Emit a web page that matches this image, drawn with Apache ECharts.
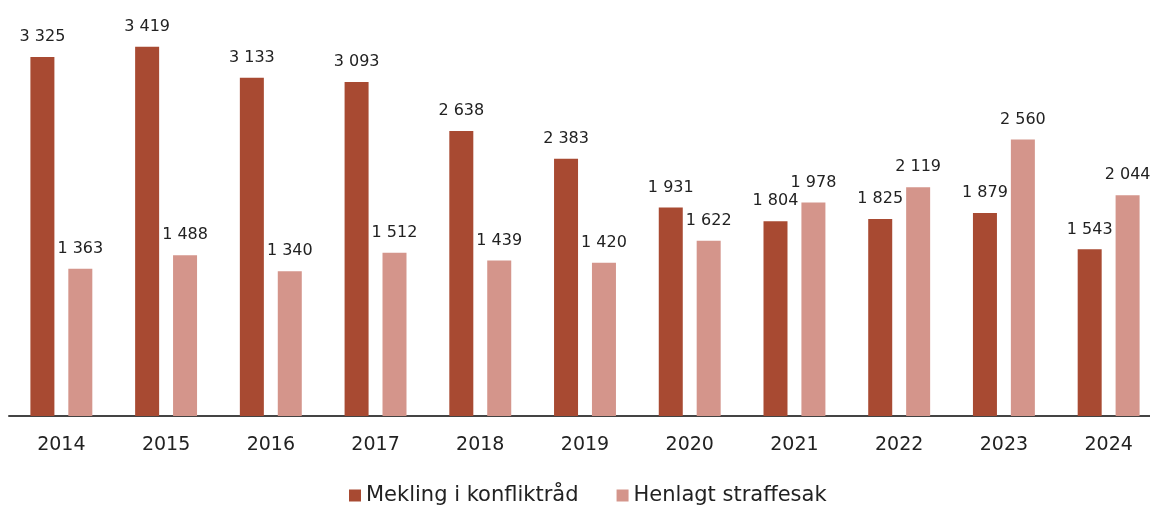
<!DOCTYPE html>
<html>
<head>
<meta charset="utf-8">
<script src="https://cdn.jsdelivr.net/npm/echarts@6/dist/echarts.min.js"></script>
<style>
  html, body { margin: 0; padding: 0; background: #fff; overflow: hidden; }
  #chart { width: 1165px; height: 505px; }
</style>
</head>
<body>
<div id="chart"></div>
<script>
var years = ['2014', '2015', '2016', '2017', '2018', '2019', '2020', '2021', '2022', '2023', '2024'];
var mekling = [3325, 3419, 3133, 3093, 2638, 2383, 1931, 1804, 1825, 1879, 1543];
var henlagt = [1363, 1488, 1340, 1512, 1439, 1420, 1622, 1978, 2119, 2560, 2044];

var fontName = '"DejaVu Sans", sans-serif';

// tusenskille med mellomrom, som i originalen
function fmt(p) {
    return String(p.value).replace(/\B(?=(\d{3})+(?!\d))/g, ' ');
}

var chart = echarts.init(document.getElementById('chart'));

var option = {
    animation: false,
    textStyle: { fontFamily: fontName },
    grid: {
        left: 9,
        right: 4,
        top: 38,
        bottom: 89
    },
    legend: {
        top: 480,
        left: 344,
        itemWidth: 12,
        itemHeight: 12,
        itemGap: 38,
        icon: 'rect',
        textStyle: { fontSize: 21, color: '#222', fontFamily: fontName },
        data: ['Mekling i konfliktråd', 'Henlagt straffesak']
    },
    xAxis: {
        type: 'category',
        data: years,
        axisLine: { lineStyle: { color: '#444', width: 2 } },
        axisTick: { show: false },
        axisLabel: { fontSize: 19, color: '#222', margin: 20, fontFamily: fontName }
    },
    yAxis: {
        type: 'value',
        min: 0,
        max: 3500,
        show: false,
        splitLine: { show: false }
    },
    series: [
        {
            name: 'Mekling i konfliktråd',
            type: 'bar',
            data: mekling,
            barWidth: 24,
            barGap: '58%',
            itemStyle: { color: '#A84A32' },
            label: {
                show: true,
                position: 'top',
                distance: 12,
                fontSize: 16,
                color: '#222',
                formatter: fmt
            }
        },
        {
            name: 'Henlagt straffesak',
            type: 'bar',
            data: henlagt,
            barWidth: 24,
            itemStyle: { color: '#D4958B' },
            label: {
                show: true,
                position: 'top',
                distance: 12,
                fontSize: 16,
                color: '#222',
                formatter: fmt
            }
        }
    ]
};

chart.setOption(option);
</script>
</body>
</html>
